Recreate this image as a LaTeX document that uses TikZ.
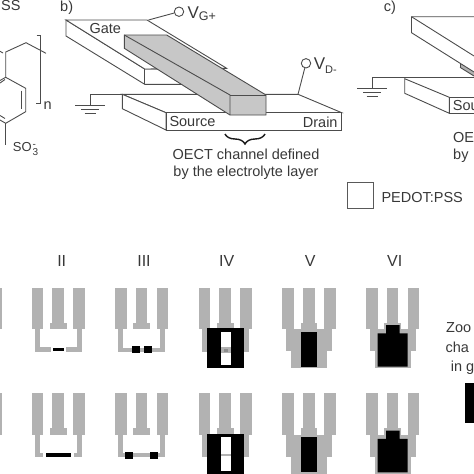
\documentclass[tikz,border=0pt]{standalone}
\usepackage{fontspec}
\setmainfont{Liberation Sans}
\usetikzlibrary{decorations.pathreplacing}

\begin{document}
\begin{tikzpicture}[x=1pt, y=-1pt,
  ln/.style={black!70, line width=0.9pt},
  et/.style={font=\fontsize{14.5}{17.4}\selectfont, text=black!78, inner sep=0pt, anchor=base west},
  rom/.style={font=\fontsize{16}{16}\selectfont, text=black!78, inner sep=0pt, anchor=base},
  term/.style={circle, draw=black!70, line width=0.9pt, fill=white, minimum size=9.4pt, inner sep=0pt},
  el/.style={fill=black!30},
  ng/.style={fill=black},
  tierra/.pic={
    \draw[ln] (-15,0) -- (15,0);
    \draw[ln] (-9,4.4) -- (9,4.4);
    \draw[ln] (-5.5,8.5) -- (5.5,8.5);
  },
  bars/.pic={
    \fill[el] (0,0) rectangle (11.6,41.6);
    \fill[el] (20.6,0) rectangle (32.3,36);
    \fill[el] (18.3,35) rectangle (35,41.6);
    \fill[el] (41.6,0) rectangle (53.3,41.6);
  },
  arms/.pic={
    \pic {bars};
    \fill[el] (3.3,41) rectangle (8.3,64);
    \fill[el] (45,41) rectangle (50,64);
  },
  wide/.pic={
    \pic {bars};
    \fill[el] (3.7,41.6) rectangle (49.7,63.3);
    \fill[el] (8.7,63) rectangle (45,80.6);
  },
  iitop/.pic={
    \pic {arms};
    \fill[el] (3.3,59.6) rectangle (19.7,64);
    \fill[el] (34.3,59.6) rectangle (50,64);
    \fill[ng] (21,60.3) rectangle (32.3,63.6);
  },
  iibot/.pic={
    \pic {arms};
    \fill[el] (3.3,59.6) rectangle (11,64);
    \fill[el] (42.3,59.6) rectangle (50,64);
    \fill[ng] (14.3,60) rectangle (39,63.4);
  },
  iiitop/.pic={
    \pic {arms};
    \fill[el] (3.3,59.8) rectangle (50,63.8);
    \fill[ng] (17,58.7) rectangle (25.3,65.7);
    \fill[ng] (28.7,58.7) rectangle (37,65.7);
  },
  iiibot/.pic={
    \pic {arms};
    \fill[el] (3.3,59.8) rectangle (50,63.8);
    \fill[ng] (10,58.3) rectangle (18.3,65.3);
    \fill[ng] (35,58.3) rectangle (43.3,65.3);
  },
  ivbase/.pic={
    \pic {arms};
    \fill[ng] (8.6,40.6) rectangle (45.3,80.6);
    \fill[white] (22,44) rectangle (32,77.3);
  },
  ivtop/.pic={
    \pic {ivbase};
    \fill[el] (22,59.5) rectangle (32,65.5);
    \fill[black!45] (25,61) rectangle (29,64);
  },
  ivbot/.pic={
    \pic {ivbase};
    \fill[el] (22,61) rectangle (32,63);
  },
  v/.pic={
    \pic {wide};
    \fill[ng] (18.3,44) rectangle (35,79);
  },
  vi/.pic={
    \pic {wide};
    \fill[ng] (11.6,45.6) -- (20,45.6) -- (20,37.3) -- (33.6,37.3) -- (33.6,45.6)
      -- (41.6,45.6) -- (41.6,79) -- (11.6,79) -- cycle;
  }]
\path[use as bounding box, clip] (0,0) rectangle (474,474);

% a) polimero
\node[et] (pss) at (1,10) {SS};
\draw[ln] (0,51.3) -- (3,53);
\draw[ln] (5.7,77.3) -- (5.7,52) -- (26,42.7) -- (46,53.3);
\draw[ln] (36.7,35.3) -- (40.7,35.3) -- (40.7,103.3) -- (36,103.3);
\draw[ln] (-14,88.3) -- (5.7,77.3) -- (25.7,88.3) -- (25.7,111.7) -- (5.7,123.3) -- (-14,112);
\draw[ln] (21.7,90.7) -- (21.7,109.3);
\draw[ln] (0,83) -- (5,79.5);
\draw[ln] (0,115.5) -- (5,118.5);
\draw[ln] (5.7,123.3) -- (5.7,145);
\node[et] (nsub) at (43.5,109.3) {n};
\node[et, font=\fontsize{13}{14}\selectfont] (so3) at (12.7,151.5)
  {SO\kern1pt\rlap{\raisebox{4.5pt}{\fontsize{10}{10}\selectfont -}}\raisebox{-3.5pt}{\fontsize{10}{10}\selectfont 3}};

% b)
\node[et] (lb) at (60,11.7) {b)};
\coordinate (gndb) at (90,94.3);
\coordinate (srcb) at (298,94.3);
\draw[ln] (gndb) -- (srcb);
\draw[ln] (gndb) -- ++(0,10.7);
\pic at (90,105) {tierra};
\draw[ln, fill=white] (122.3,94.3) -- (166,112.7) -- (341.7,112.7) -- (298,94.3) -- cycle;
\draw[ln, fill=white] (122.3,94.3) -- (122.3,108.7) -- (166,130) -- (166,112.7) -- cycle;
\draw[ln, fill=white] (166,112.7) rectangle (341.7,130.3);
\draw[ln, fill=white] (66,20) -- (66,36) -- (144.7,84.3) -- (182,84.3) -- (182,69) -- (144.7,69) -- cycle;
\draw[ln, fill=white] (66,20) -- (147,20) -- (226.7,68.3) -- (144.7,69) -- cycle;
\draw[ln] (144.7,69) -- (144.7,84.3);
\fill[black!22] (124.3,35) -- (166.7,35) -- (266,95) -- (266,115) -- (230,115) -- (124.3,48.3) -- cycle;
\draw[ln] (124.3,35) -- (166.7,35) -- (266,95) -- (266,115) -- (230,115) -- (124.3,48.3) -- cycle;
\draw[ln] (124.3,35) -- (230,95) -- (230,115);
\draw[ln] (230,95) -- (266,95);
\coordinate (gateb) at (148.5,20);
\node[term] (vg) at (179,11.7) {};
\draw[ln] (gateb) -- (vg);
\node[term] (vd) at (306,63.3) {};
\draw[ln] (srcb) -- (vd);
\node[et, font=\fontsize{17}{17}\selectfont] (vgl) at (187.3,18)
  {V\raisebox{-2pt}{\fontsize{12.5}{12.5}\selectfont G+}};
\node[et, font=\fontsize{17}{17}\selectfont] (vdl) at (313.7,69.3)
  {V\raisebox{-3.7pt}{\fontsize{11}{11}\selectfont D-}};
\node[et] (gate) at (89.3,33.3) {Gate};
\node[et] (source) at (169.3,126.7) {Source};
\node[et] (drain) at (302.7,127) {Drain};
\draw[black!90, line width=1.4pt, decorate, decoration={brace, mirror, amplitude=10pt}]
  (225,134) -- (265,134);
\node[et, anchor=north, align=center] (chan) at (246,148.5) {OECT channel defined\\by the electrolyte layer};

% leyenda
\node[draw=black!65, line width=0.9pt, fill=white, minimum size=26pt, inner sep=0pt] (leg) at (360.7,195.7) {};
\node[et] (legt) at (381.3,202.7) {PEDOT:PSS};

% c)
\node[et] (lc) at (383.7,11.7) {c)};
\coordinate (gndc) at (372,77.7);
\coordinate (endc) at (474,77.7);
\draw[ln] (gndc) -- (endc);
\draw[ln] (gndc) -- ++(0,10.6);
\pic at (372,88.3) {tierra};
\fill[black!30] (460,63.3) -- (460,67.3) -- (474,76) -- (474,72) -- cycle;
\draw[ln] (460,67.3) -- (474,76);
\draw[ln] (474,16.7) -- (411.5,16.7) -- (411.5,32.7) -- (474,72);
\draw[ln] (411.5,16.7) -- (474,56);
\draw[ln] (460,63.3) -- (460,67.3);
\draw[ln, fill=white] (404.7,78.7) -- (404.7,93.3) -- (449.3,113.3) -- (449.3,97.3) -- cycle;
\draw[ln] (449.3,97.3) -- (474,97.3);
\draw[ln] (449.3,113.3) -- (474,113.3);
\node[et] (sourcec) at (452.7,110.7) {Sou};
\node[et] (oe) at (453,142) {OE};
\node[et] (by) at (453,159.3) {by};

% abajo
\node[rom] (r2) at (61.7,266.5) {II};
\node[rom] (r3) at (144,266.5) {III};
\node[rom] (r4) at (226.7,266.5) {IV};
\node[rom] (r5) at (310.3,266.5) {V};
\node[rom] (r6) at (394.7,266.5) {VI};
\pic at (-51.8,287.7) {bars};
\pic at (31.7,287.7) {iitop};
\pic at (115,287.7) {iiitop};
\pic at (198.7,287.7) {ivtop};
\pic at (282.3,287.7) {v};
\pic at (366,287.7) {vi};
\pic at (-51.8,393.3) {bars};
\pic at (31.7,393.3) {iibot};
\pic at (115,393.3) {iiibot};
\pic at (198.7,393.3) {ivbot};
\pic at (282.3,393.3) {v};
\pic at (366,393.3) {vi};

\node[et] (zoo) at (446,332) {Zoo};
\node[et] (cha) at (445.3,352) {cha};
\node[et] (ing) at (450.7,371) {in g};
\fill[ng] (464.5,383.3) rectangle (474,423.3);
\end{tikzpicture}
\end{document}
